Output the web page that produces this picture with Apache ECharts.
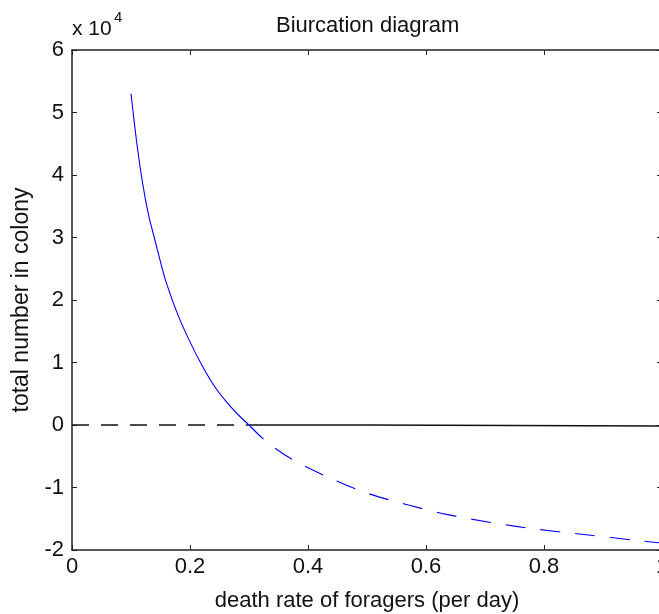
<!DOCTYPE html>
<html>
<head>
<meta charset="utf-8">
<script src="https://cdn.jsdelivr.net/npm/echarts@6/dist/echarts.min.js"></script>
<style>
  html, body { margin: 0; padding: 0; background: #fff; }
  #chart { width: 659px; height: 614px; }
</style>
</head>
<body>
<div id="chart"></div>
<script>
// stable branch (solid blue), values in colony size
var stableX = [0.1, 0.11, 0.12, 0.13, 0.14, 0.15, 0.16, 0.18, 0.2, 0.22, 0.24, 0.26, 0.28, 0.3];
var stableY = [53000, 45000, 38500, 33500, 29800, 26100, 22700, 17500, 13300, 9600, 6400, 3900, 1800, 0];

// unstable branch (dashed blue)
var unstableX = [0.3, 0.33, 0.375, 0.44, 0.5, 0.57, 0.635, 0.71, 0.79, 0.875, 0.96, 1.0];
var unstableY = [0, -2700, -5600, -8600, -10900, -12800, -14300, -15600, -16700, -17600, -18500, -18900];

// trivial equilibrium (black), dashed before the crossing, solid after
var zeroDashX = [0, 0.3];
var zeroDashY = [0, 0];
var zeroSolidX = [0.3, 0.5, 0.5, 1.0];
var zeroSolidY = [0, 0, -150, -150];

var xTicks = [0, 0.2, 0.4, 0.6, 0.8, 1];
var yTicks = [-2, -1, 0, 1, 2, 3, 4, 5, 6]; // x 10^4

function pairs(xs, ys) {
    var out = [];
    for (var i = 0; i < xs.length; i++) out.push([xs[i], ys[i] / 10000]);
    return out;
}

var chart = echarts.init(document.getElementById('chart'));
var font = 'Liberation Sans, Arial, sans-serif';
var axisCol = '#222';

var option = {
    animation: false,
    title: {
        text: 'Biurcation diagram',
        left: 271,
        top: 10,
        textStyle: {
            fontFamily: font,
            fontSize: 22,
            fontWeight: 'normal',
            color: '#111'
        }
    },
    graphic: [{
        type: 'text',
        left: 72,
        top: 19,
        style: {
            text: 'x 10',
            font: '21px ' + font,
            fill: '#111'
        }
    }, {
        type: 'text',
        left: 114,
        top: 10,
        style: {
            text: '4',
            font: '15px ' + font,
            fill: '#111'
        }
    }],
    grid: {
        left: 72,
        right: -3,
        top: 50,
        bottom: 64,
        containLabel: false,
        outerBoundsMode: 'none'
    },
    xAxis: [{
        type: 'value',
        min: xTicks[0],
        max: xTicks[xTicks.length - 1],
        interval: 0.2,
        name: 'death rate of foragers (per day)',
        nameLocation: 'middle',
        nameGap: 40,
        nameTextStyle: {fontFamily: font, fontSize: 22, color: '#111'},
        axisLine: {show: true, onZero: false, lineStyle: {color: axisCol, width: 1.5}},
        axisTick: {show: true, inside: true, length: 5, lineStyle: {color: axisCol}},
        axisLabel: {
            margin: 6,
            fontFamily: font,
            fontSize: 22,
            color: '#111',
            showMaxLabel: true
        },
        splitLine: {show: false}
    }, {
        type: 'value',
        position: 'top',
        min: xTicks[0],
        max: xTicks[xTicks.length - 1],
        interval: 0.2,
        axisLine: {show: true, onZero: false, lineStyle: {color: axisCol, width: 1.5}},
        axisTick: {show: true, inside: true, length: 5, lineStyle: {color: axisCol}},
        axisLabel: {show: false},
        splitLine: {show: false}
    }],
    yAxis: [{
        type: 'value',
        min: yTicks[0],
        max: yTicks[yTicks.length - 1],
        interval: 1,
        name: 'total number in colony',
        nameLocation: 'middle',
        nameGap: 35,
        nameTextStyle: {fontFamily: font, fontSize: 23, color: '#111'},
        axisLine: {show: true, onZero: false, lineStyle: {color: axisCol, width: 1.5}},
        axisTick: {show: true, inside: true, length: 5, lineStyle: {color: axisCol}},
        axisLabel: {margin: 8, fontFamily: font, fontSize: 22, color: '#111'},
        splitLine: {show: false}
    }, {
        type: 'value',
        position: 'right',
        min: yTicks[0],
        max: yTicks[yTicks.length - 1],
        interval: 1,
        axisLine: {show: true, onZero: false, lineStyle: {color: axisCol, width: 1.5}},
        axisTick: {show: true, inside: true, length: 5, lineStyle: {color: axisCol}},
        axisLabel: {show: false},
        splitLine: {show: false}
    }],
    series: [{
        type: 'line',
        data: pairs(zeroDashX, zeroDashY),
        symbol: 'none',
        lineStyle: {color: '#111', width: 1.5, type: [17, 12]},
        z: 2
    }, {
        type: 'line',
        data: pairs(zeroSolidX, zeroSolidY),
        symbol: 'none',
        lineStyle: {color: '#111', width: 1.5},
        z: 2
    }, {
        type: 'line',
        data: pairs(stableX, stableY),
        symbol: 'none',
        smooth: 0.3,
        lineStyle: {color: '#0000ff', width: 1.1},
        z: 3
    }, {
        type: 'line',
        data: pairs(unstableX, unstableY),
        symbol: 'none',
        smooth: 0.3,
        lineStyle: {color: '#0000ff', width: 1.1, type: [20, 15]},
        z: 3
    }]
};

chart.setOption(option);
</script>
</body>
</html>
